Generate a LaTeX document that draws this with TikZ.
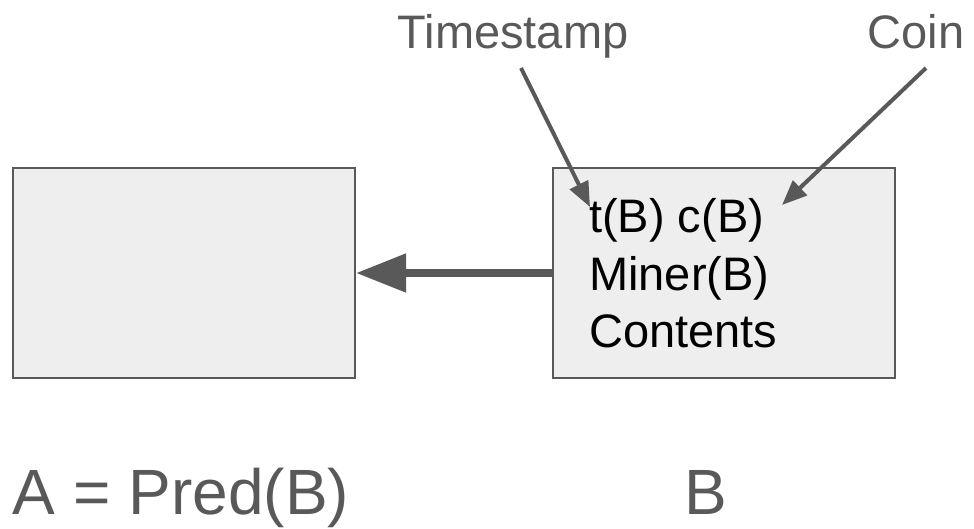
\documentclass[tikz,border=0pt]{standalone}
\usepackage{fontspec}
\setmainfont{Liberation Sans}
\usetikzlibrary{positioning}
\usetikzlibrary{arrows.meta}
\definecolor{edgegray}{HTML}{595959}
\definecolor{boxfill}{HTML}{EEEEEE}
\tikzset{
	block/.style={draw=edgegray,fill=boxfill,line width=2pt,minimum width=342pt,minimum height=210pt,inner sep=0pt},
	pointer/.style={draw=edgegray,line width=4pt,-{Triangle[length=25pt,width=20pt]}},
	blocktext/.style={anchor=base west,inner sep=0pt,font=\fontsize{47}{57}\selectfont},
	tag/.style={anchor=base,inner sep=0pt,text=edgegray,font=\fontsize{47}{55}\selectfont},
	caption/.style={anchor=base,inner sep=0pt,text=edgegray,font=\fontsize{64}{74}\selectfont}
}
\begin{document}
\begin{tikzpicture}[x=1pt,y=-1pt]
		\useasboundingbox (0,0) rectangle (974,528);
		 	\node[block] (a) at (184,273) {};
		 	\node[block] (b) at (724,273) {};
		 	% contents of block B
		 	\node[blocktext] (t1) at (589,232) {t(B) c(B)};
		 	\node[blocktext] (t2) at (589,290) {Miner(B)};
		 	\node[blocktext] (t3) at (589,347) {Contents};
		 	% labels on top
		 	\node[tag] (stamp) at (513,48) {Timestamp};
		 	\node[tag] (coin) at (916,48) {Coin};
		 	\coordinate (ttip) at (590,207);
		 	\coordinate (ctip) at (782,205);
		 	% labels below
		 	\node[caption] (pa) at (181,514) {A = Pred(B)};
		 	\node[caption] (pb) at (706,514) {B};
	        \draw[draw=edgegray,line width=8pt,-{Triangle[length=50pt,width=37pt]}] (b.west) -- (a.east);
	        \draw[pointer] ([xshift=8pt,yshift=-20pt]stamp.base) -- (ttip);
        	\draw[pointer] ([xshift=10pt,yshift=-20pt]coin.base) -- (ctip);
\end{tikzpicture}
\end{document}
